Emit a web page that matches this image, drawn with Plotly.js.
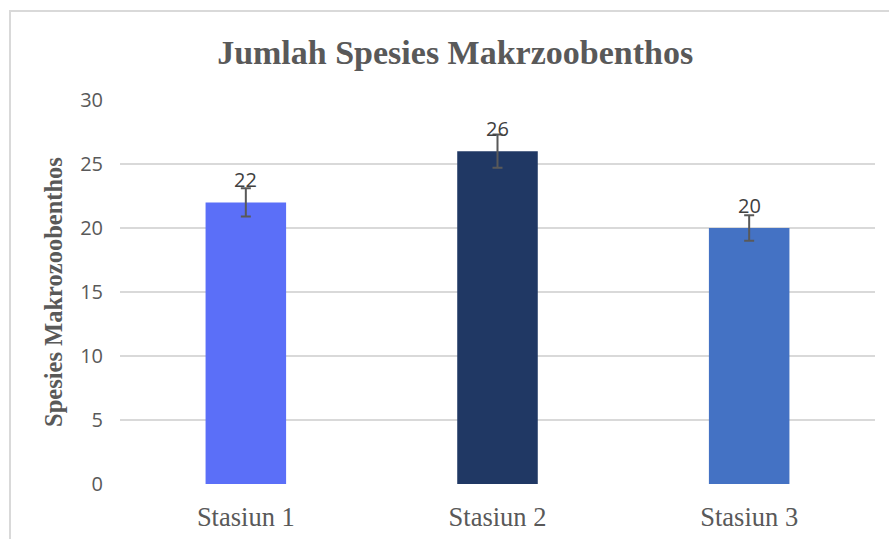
<!DOCTYPE html>
<html>
<head>
<meta charset="utf-8">
<script src="https://cdn.plot.ly/plotly-3.0.1.min.js"></script>
<style>
  html, body { margin: 0; padding: 0; background: #fff; }
  #wrap { position: relative; width: 889px; height: 539px; overflow: hidden; }
  #chart { position: absolute; left: 0; top: 0; width: 889px; height: 539px; }
  #frame { position: absolute; left: 9px; top: 10px; width: 900px; height: 560px;
           border-left: 2px solid #d9d9d9; border-top: 2px solid #d9d9d9; pointer-events: none; }
</style>
</head>
<body>
<div id="wrap">
  <div id="chart"></div>
  <div id="frame"></div>
</div>
<script>
const categories = ["Stasiun 1", "Stasiun 2", "Stasiun 3"];
const values = [22, 26, 20];
const errors = [1.1, 1.3, 1.0];
const barColors = ["#5b6ff8", "#203864", "#4472c4"];
const yTicks = [0, 5, 10, 15, 20, 25, 30];

const trace = {
  type: "bar",
  x: categories,
  y: values,
  marker: { color: barColors, line: { width: 0 } },
  error_y: { type: "data", array: errors, visible: true, color: "#595959", thickness: 2, width: 5 },
  hoverinfo: "skip"
};

const annotations = categories.map((c, i) => ({
  x: c, y: values[i], xref: "x", yref: "y",
  text: String(values[i]), showarrow: false,
  yanchor: "middle", xanchor: "center", yshift: 23,
  font: { family: "Open Sans, sans-serif", size: 20, color: "#404040" }
}));

const layout = {
  width: 889, height: 539,
  margin: { l: 120, r: 14, t: 100, b: 55 },
  paper_bgcolor: "#ffffff", plot_bgcolor: "#ffffff",
  bargap: 0.68,
  showlegend: false,
  title: {
    text: "Jumlah Spesies Makrzoobenthos",
    font: { family: "Liberation Serif, serif", size: 34, color: "#595959", weight: "bold" },
    xref: "container", yref: "container", x: 0.512, y: 0.903, xanchor: "center", yanchor: "middle"
  },
  xaxis: {
    type: "category",
    showgrid: false, zeroline: false, showline: false, ticks: "",
    tickfont: { family: "Liberation Serif, serif", size: 26.5, color: "#595959" },
    ticklabelstandoff: 14
  },
  yaxis: {
    range: [0, 30], tickvals: yTicks, ticktext: yTicks.map(String),
    showgrid: true, gridcolor: "#d9d9d9", gridwidth: 2,
    zeroline: false, showline: false, ticks: "",
    tickfont: { family: "Open Sans, sans-serif", size: 20, color: "#595959" },
    ticklabelstandoff: 16,
    title: {
      text: "Spesies Makrozoobenthos",
      font: { family: "Liberation Serif, serif", size: 24.5, color: "#595959", weight: "bold" },
      standoff: 10
    },
    automargin: false
  },
  annotations: annotations
};

Plotly.newPlot("chart", [trace], layout, { staticPlot: true, displayModeBar: false });
</script>
</body>
</html>
